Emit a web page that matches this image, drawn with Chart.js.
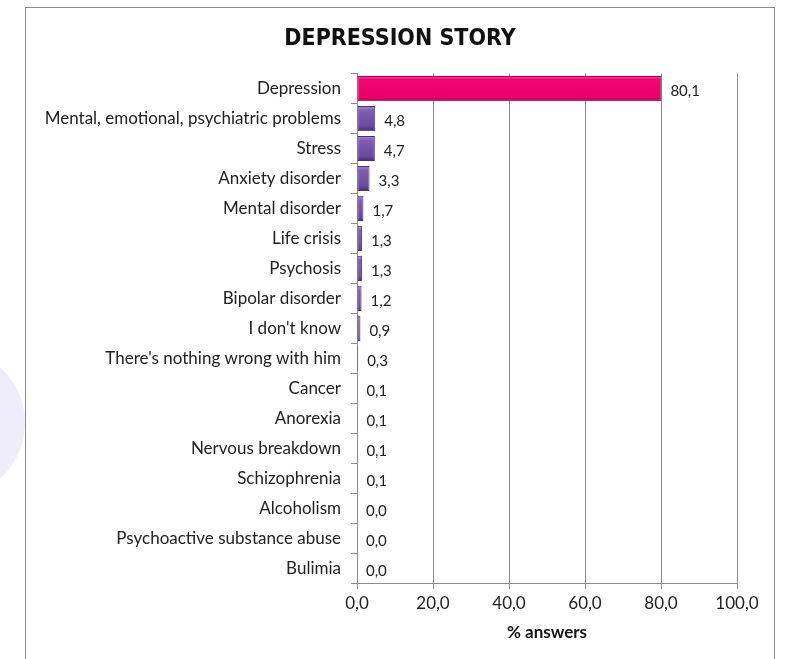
<!DOCTYPE html>
<html>
<head>
<meta charset="utf-8">
<script src="https://cdn.jsdelivr.net/npm/chart.js@4.4.1/dist/chart.umd.min.js"></script>
<style>
  html, body { margin: 0; padding: 0; background: #fff; overflow: hidden; }
  #blob {
    position: absolute; left: -127px; top: 348px; width: 152px; height: 150px;
    border-radius: 50%; background: #efedf8;
  }
  #frame {
    position: absolute; left: 25px; top: 7px; width: 748px; height: 660px;
    border: 1px solid #8a8a8a; border-bottom: none; background: #fff;
  }
  #chart { display: block; }
</style>
</head>
<body>
<div id="blob"></div>
<div id="frame"><canvas id="chart" width="748" height="651"></canvas></div>
<script>
const categories = [
  'Depression', 'Mental, emotional, psychiatric problems', 'Stress', 'Anxiety disorder',
  'Mental disorder', 'Life crisis', 'Psychosis', 'Bipolar disorder', "I don't know",
  "There's nothing wrong with him", 'Cancer', 'Anorexia', 'Nervous breakdown',
  'Schizophrenia', 'Alcoholism', 'Psychoactive substance abuse', 'Bulimia'
];
const answers = [80.1, 4.8, 4.7, 3.3, 1.7, 1.3, 1.3, 1.2, 0.9, 0.3, 0.1, 0.1, 0.1, 0.1, 0.0, 0.0, 0.0];
const xTicks = [0, 20, 40, 60, 80, 100];

const fontFamily = "Lato, 'Open Sans', sans-serif";
const fmt = v => v.toFixed(1).replace('.', ',');

// vertical shading per bar so the bars look bevelled
function barFill(ctx) {
  const first = ctx.dataIndex === 0;
  const flat = first ? '#ec006b' : '#7355a5';
  const y = ctx.chart.scales && ctx.chart.scales.y;
  if (!y || ctx.dataIndex === undefined) return flat;
  const c = y.getPixelForValue(ctx.dataIndex);
  if (!isFinite(c)) return flat;
  const g = ctx.chart.ctx.createLinearGradient(0, c - 13, 0, c + 13);
  if (first) {
    g.addColorStop(0, '#ff5aa0');
    g.addColorStop(0.15, '#f2046e');
    g.addColorStop(0.85, '#e8006a');
    g.addColorStop(1, '#b0004e');
  } else {
    g.addColorStop(0, '#a98fd6');
    g.addColorStop(0.2, '#7d5cb3');
    g.addColorStop(0.8, '#6a4aa0');
    g.addColorStop(1, '#3f2868');
  }
  return g;
}

const valueLabels = {
  id: 'valueLabels',
  afterDatasetsDraw(chart) {
    const ctx = chart.ctx;
    const meta = chart.getDatasetMeta(0);
    ctx.save();
    ctx.font = '15px ' + fontFamily;
    ctx.fillStyle = '#222';
    ctx.textAlign = 'left';
    ctx.textBaseline = 'middle';
    meta.data.forEach((bar, i) => {
      ctx.fillText(fmt(answers[i]), bar.x + 9, bar.y + 3);
    });
    ctx.restore();
  }
};

new Chart(document.getElementById('chart'), {
  type: 'bar',
  data: {
    labels: categories,
    datasets: [{
      data: answers,
      backgroundColor: barFill,
      borderColor: ctx => ctx.dataIndex === 0 ? '#a8004a' : '#4a3078',
      borderWidth: 1,
      borderSkipped: false,
      barPercentage: 0.84,
      categoryPercentage: 1
    }]
  },
  options: {
    indexAxis: 'y',
    responsive: false,
    animation: false,
    layout: { padding: 0 },
    plugins: {
      legend: { display: false },
      tooltip: { enabled: false },
      title: {
        display: true,
        text: 'DEPRESSION STORY',
        color: '#111',
        font: { family: "'Liberation Sans Narrow', 'DejaVu Sans Condensed', sans-serif", size: 23, weight: 'bold' },
        padding: { top: 17, bottom: 21 }
      }
    },
    scales: {
      x: {
        min: 0,
        max: 100,
        afterBuildTicks: scale => { scale.ticks = xTicks.map(v => ({ value: v })); },
        afterFit: scale => { scale.height = 76; scale.paddingRight = 37; },
        ticks: {
          color: '#222',
          font: { family: fontFamily, size: 17 },
          padding: 4,
          callback: v => fmt(v)
        },
        grid: { color: '#8c8c8c', lineWidth: 1, tickLength: 6 },
        border: { color: '#8c8c8c' },
        title: {
          display: true,
          text: '% answers',
          color: '#111',
          font: { family: fontFamily, size: 17, weight: 'bold' },
          padding: { top: 6, bottom: 16 }
        }
      },
      y: {
        afterFit: scale => { scale.width = 331; },
        ticks: {
          color: '#222',
          font: { family: fontFamily, size: 17 },
          padding: 10
        },
        grid: { drawOnChartArea: false, color: '#8c8c8c', tickLength: 6, offset: true },
        border: { color: '#8c8c8c' }
      }
    }
  },
  plugins: [valueLabels]
});
</script>
</body>
</html>
